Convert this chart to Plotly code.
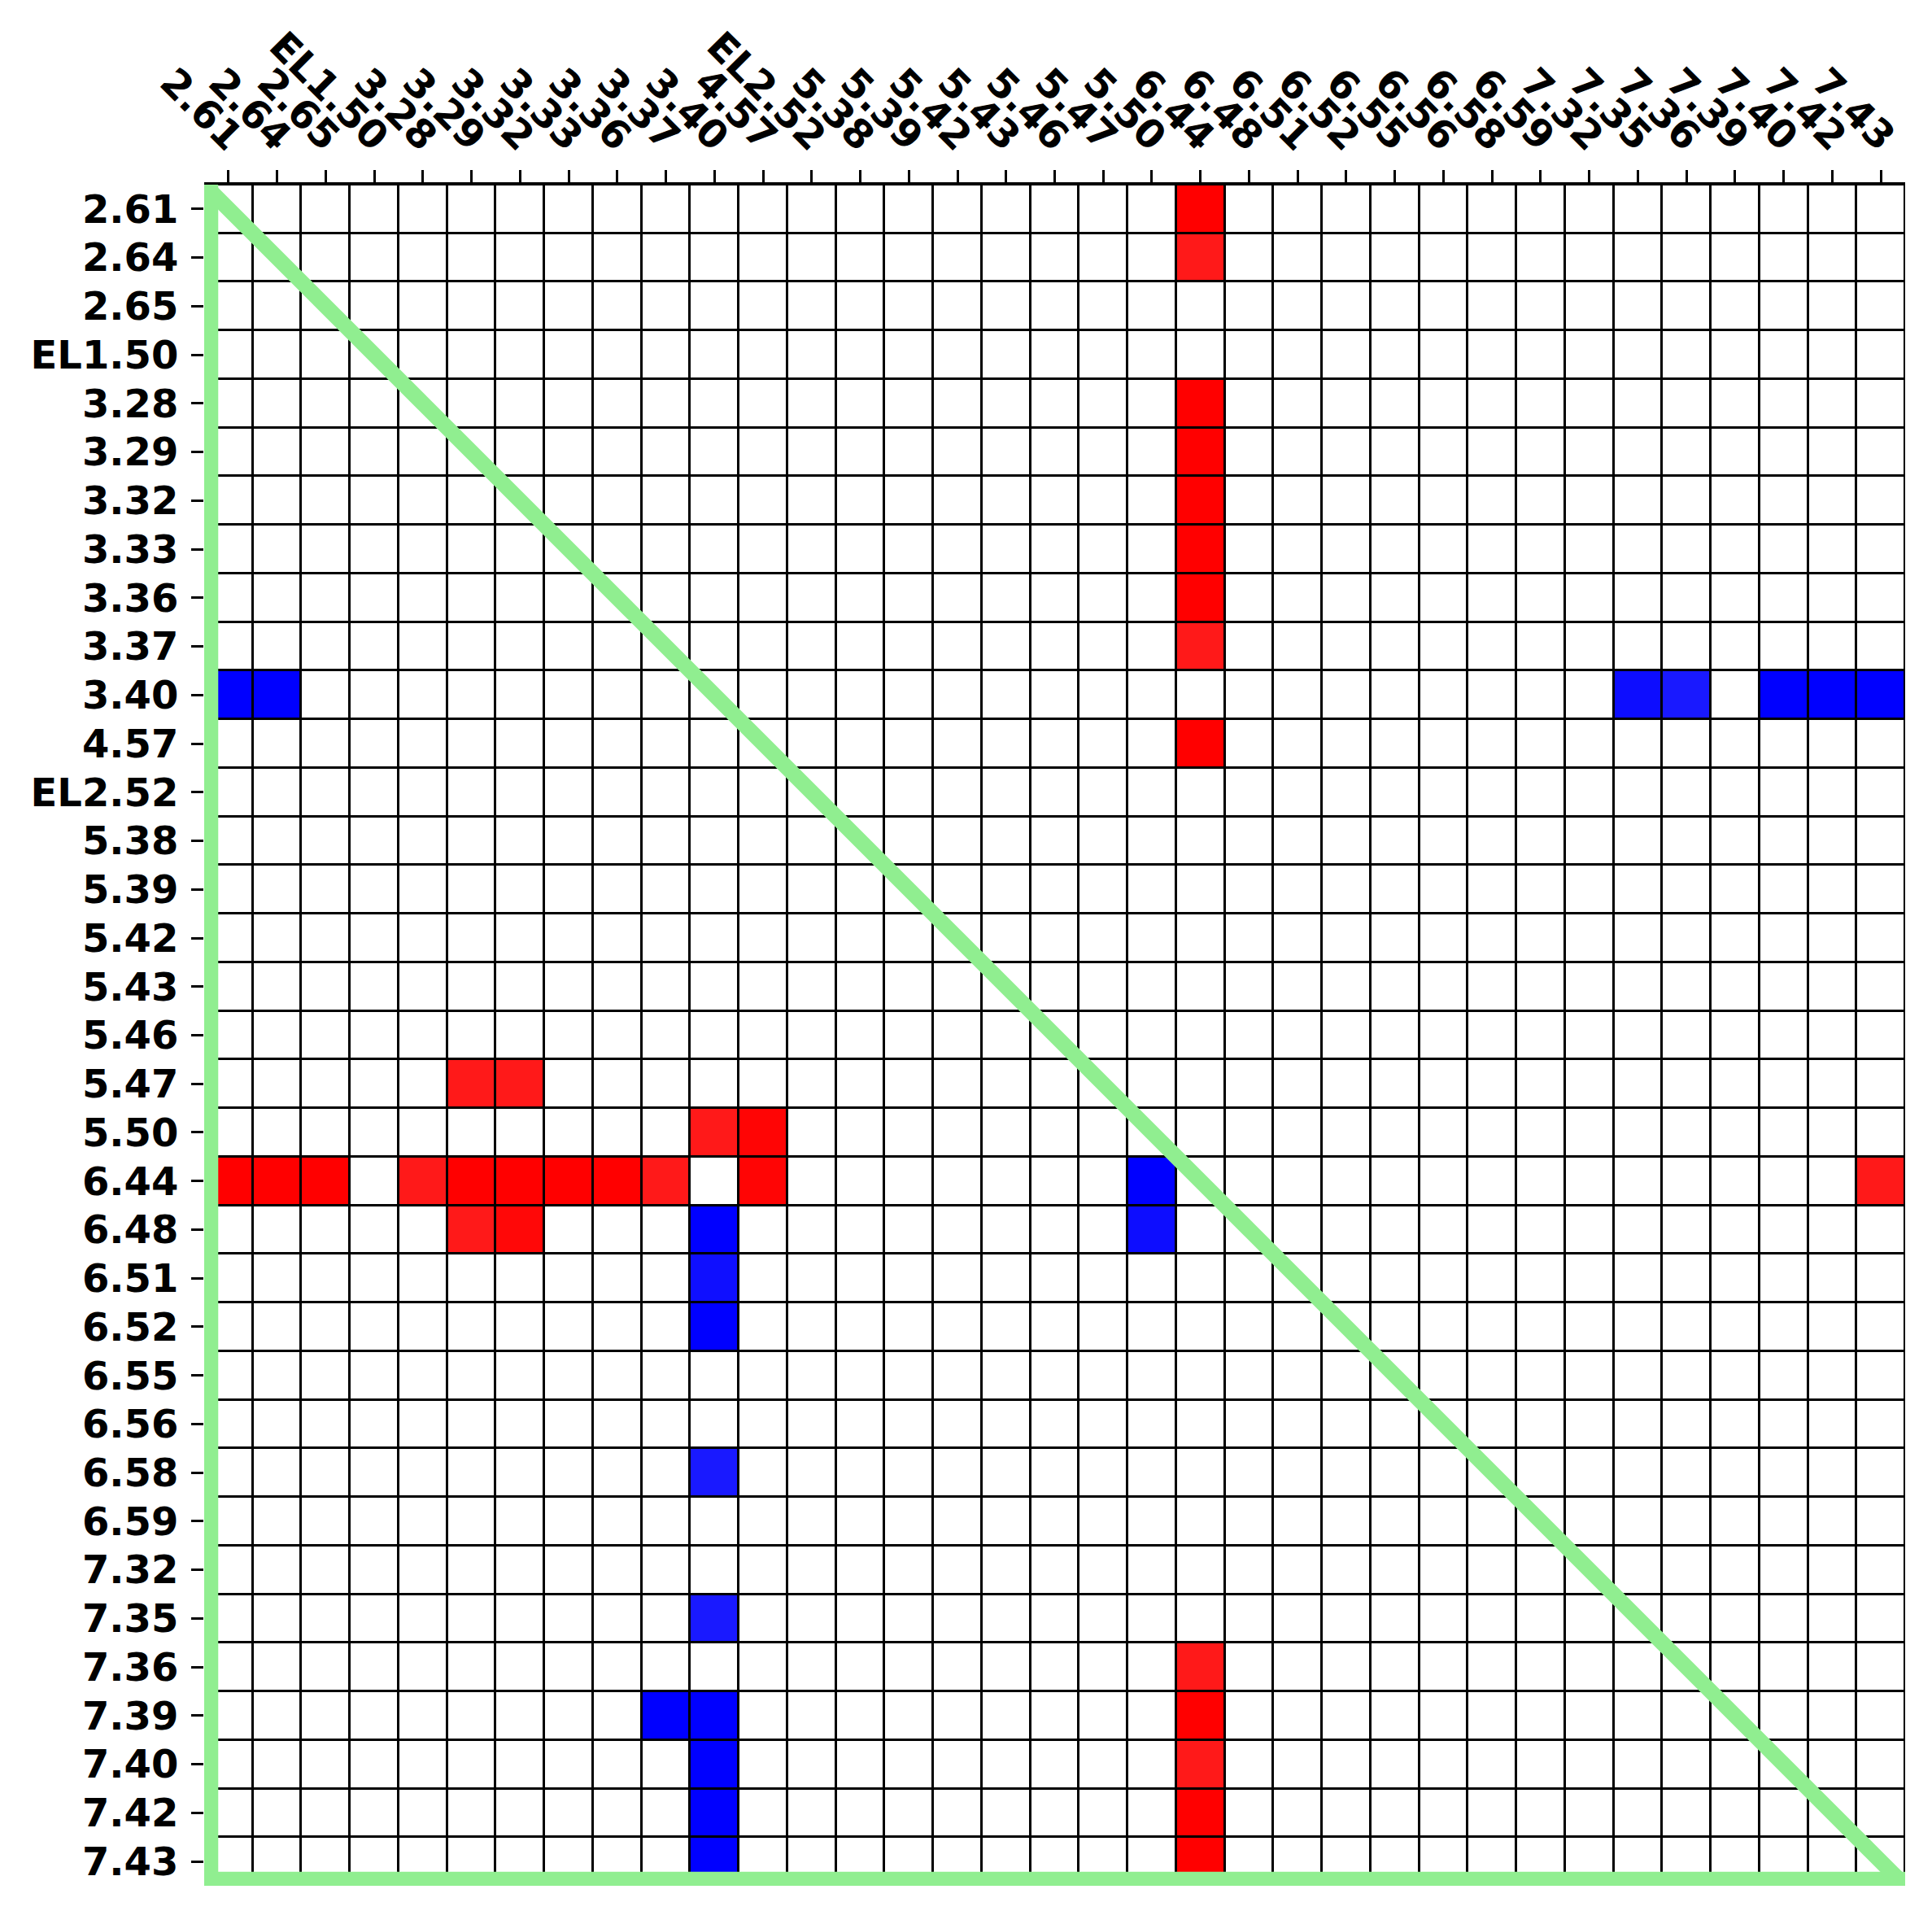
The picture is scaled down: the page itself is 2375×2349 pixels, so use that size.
import plotly.graph_objects as go

labels = ["2.61", "2.64", "2.65", "EL1.50", "3.28", "3.29", "3.32", "3.33", "3.36",
          "3.37", "3.40", "4.57", "EL2.52", "5.38", "5.39", "5.42", "5.43", "5.46",
          "5.47", "5.50", "6.44", "6.48", "6.51", "6.52", "6.55", "6.56", "6.58",
          "6.59", "7.32", "7.35", "7.36", "7.39", "7.40", "7.42", "7.43"]

# non-zero cells: row index, column index, value
cell_rows = [0, 1, 4, 5, 6, 7, 8, 9,
             10, 10, 10, 10, 10, 10, 10,
             11,
             18, 18,
             19, 19,
             20, 20, 20, 20, 20, 20, 20, 20, 20, 20, 20, 20,
             21, 21, 21, 21,
             22, 23, 26, 29,
             30,
             31, 31, 31,
             32, 32, 33, 33, 34, 34]
cell_cols = [20, 20, 20, 20, 20, 20, 20, 20,
             0, 1, 29, 30, 32, 33, 34,
             20,
             5, 6,
             10, 11,
             0, 1, 2, 4, 5, 6, 7, 8, 9, 11, 19, 34,
             5, 6, 10, 19,
             10, 10, 10, 10,
             20,
             9, 10, 20,
             10, 20, 10, 20, 10, 20]
cell_vals = [1.0, 0.9, 1.0, 1.0, 1.0, 1.0, 1.0, 0.9,
             -1.0, -1.0, -0.95, -0.9, -1.0, -1.0, -1.0,
             1.0,
             0.9, 0.9,
             0.9, 0.98,
             1.0, 1.0, 1.0, 0.9, 1.0, 1.0, 1.0, 1.0, 0.9, 0.98, -1.0, 0.9,
             0.9, 0.97, -1.0, -0.95,
             -0.94, -1.0, -0.9, -0.9,
             0.9,
             -1.0, -1.0, 1.0,
             -1.0, 0.9, -1.0, 1.0, -1.0, 1.0]

n = len(labels)
z = [[0.0] * n for _ in range(n)]
for r, c, v in zip(cell_rows, cell_cols, cell_vals):
    z[r][c] = v

idx = list(range(n))
fig = go.Figure()
fig.add_trace(go.Heatmap(
    z=z, x=idx, y=idx,
    zmin=-1, zmax=1,
    colorscale=[[0, "rgb(0,0,255)"], [0.5, "rgb(255,255,255)"], [1, "rgb(255,0,0)"]],
    showscale=False, xgap=3, ygap=3, hoverinfo="skip",
))

lo, hi = -0.5, n - 0.5
inset = 0.13
green = "#90EE90"
lw = 19
fig.add_shape(type="line", xref="x", yref="y", x0=lo + inset, y0=lo, x1=lo + inset, y1=hi - inset,
              line=dict(color=green, width=lw), layer="above")
fig.add_shape(type="line", xref="x", yref="y", x0=lo, y0=hi - inset, x1=hi, y1=hi - inset,
              line=dict(color=green, width=lw), layer="above")
fig.add_shape(type="line", xref="x", yref="y", x0=lo, y0=lo, x1=hi, y1=hi,
              line=dict(color=green, width=lw), layer="above")

tickfont = dict(family="DejaVu Sans", size=48, color="black", weight="bold")
fig.update_xaxes(
    side="top", range=[lo, hi], tickmode="array", tickvals=idx, ticktext=labels,
    tickangle=45, ticks="outside", ticklen=15, tickwidth=3, tickcolor="black",
    showgrid=False, zeroline=False, showline=True, linecolor="black", linewidth=3,
    mirror=False, tickfont=tickfont, fixedrange=True,
    ticklabelshift=14, ticklabelstandoff=-5,
)
fig.update_yaxes(
    range=[hi, lo], tickmode="array", tickvals=idx, ticktext=labels,
    ticks="outside", ticklen=15, tickwidth=3, tickcolor="black",
    showgrid=False, zeroline=False, showline=False,
    tickfont=tickfont, ticklabelstandoff=6, fixedrange=True,
)
fig.update_layout(
    width=2375, height=2349,
    margin=dict(l=251, r=33, t=227, b=31, pad=0),
    plot_bgcolor="black", paper_bgcolor="white",
    showlegend=False,
)
fig.write_html("out.html")
